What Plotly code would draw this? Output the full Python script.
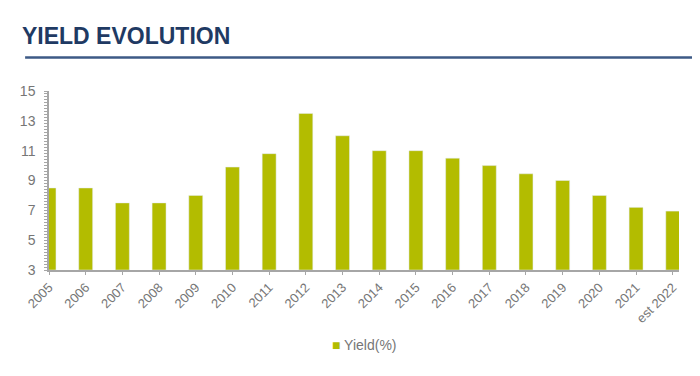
import plotly.graph_objects as go

categories = ["2005", "2006", "2007", "2008", "2009", "2010", "2011", "2012", "2013",
              "2014", "2015", "2016", "2017", "2018", "2019", "2020", "2021", "est 2022"]
yield_pct = [8.5, 8.5, 7.5, 7.5, 8.0, 9.9, 10.8, 13.5, 12.0,
             11.0, 11.0, 10.5, 10.0, 9.45, 9.0, 8.0, 7.2, 6.95]
y_ticks = [3, 5, 7, 9, 11, 13, 15]

# page body has an 8px margin, so the figure is drawn 8px in from the window
OFF = 8
W, H = 700 - OFF, 376 - OFF
L, R, T, B = 46 - OFF, 21, 91 - OFF, 106
pw = W - L - R
ph = H - T - B

bar_color = "#B3BC00"
grey_text = "#767676"
axis_grey = "#A6A6A6"
font_fam = "Liberation Sans, Arial, sans-serif"

fig = go.Figure()
fig.add_trace(go.Bar(
    x=list(range(len(categories))), y=[v - 3 for v in yield_pct], base=3,
    name="Yield(%)", marker_color=bar_color, width=0.38,
    hovertext=[f"{c}: {v}" for c, v in zip(categories, yield_pct)],
    showlegend=False,
))

fig.update_layout(
    width=W, height=H,
    margin=dict(l=L, r=R, t=T, b=B, pad=0),
    paper_bgcolor="white", plot_bgcolor="white",
    font=dict(family=font_fam, color=grey_text, size=12),
    title=dict(text="<b>YIELD EVOLUTION</b>", x=(22 - OFF) / W, xanchor="left",
               y=1 - (36 - OFF) / H, yanchor="middle", xref="container", yref="container",
               font=dict(size=23, color="#1F3A63", family=font_fam)),
    showlegend=False,
)

fig.update_xaxes(
    range=[0, 17.17],
    tickmode="array", tickvals=list(range(len(categories))), ticktext=categories,
    tickangle=-45, tickfont=dict(size=13, color=grey_text),
    showline=True, linecolor=axis_grey, linewidth=1.5,
    ticks="outside", ticklen=3, tickcolor=axis_grey,
    showgrid=False, zeroline=False,
)
fig.update_yaxes(
    range=[3, 15],
    tickmode="array", tickvals=y_ticks, ticktext=[str(t) for t in y_ticks],
    tickfont=dict(size=14, color=grey_text), ticklabelstandoff=6,
    showline=True, linecolor=axis_grey, linewidth=1.5,
    ticks="outside", ticklen=3, tickcolor=axis_grey,
    minor=dict(dtick=0.2, ticks="outside", ticklen=3, tickcolor=axis_grey, showgrid=False),
    showgrid=False, zeroline=False,
)

# Title underline
uy = (H - B - (57.5 - OFF)) / ph
fig.add_shape(type="line", xref="paper", yref="paper",
              x0=(22 - OFF - L) / pw, x1=(W - L) / pw, y0=uy, y1=uy,
              line=dict(color="#3D5A86", width=2.5))

# Legend (as text with a coloured square key)
fig.add_annotation(
    xref="paper", yref="paper",
    x=(363 - OFF - L) / pw, y=-((345 - OFF) - (H - B)) / ph,
    xanchor="center", yanchor="middle", showarrow=False,
    text=f"<span style='color:{bar_color}'>■</span> Yield(%)",
    font=dict(size=14, color=grey_text, family=font_fam),
)

fig.write_html("out.html")
